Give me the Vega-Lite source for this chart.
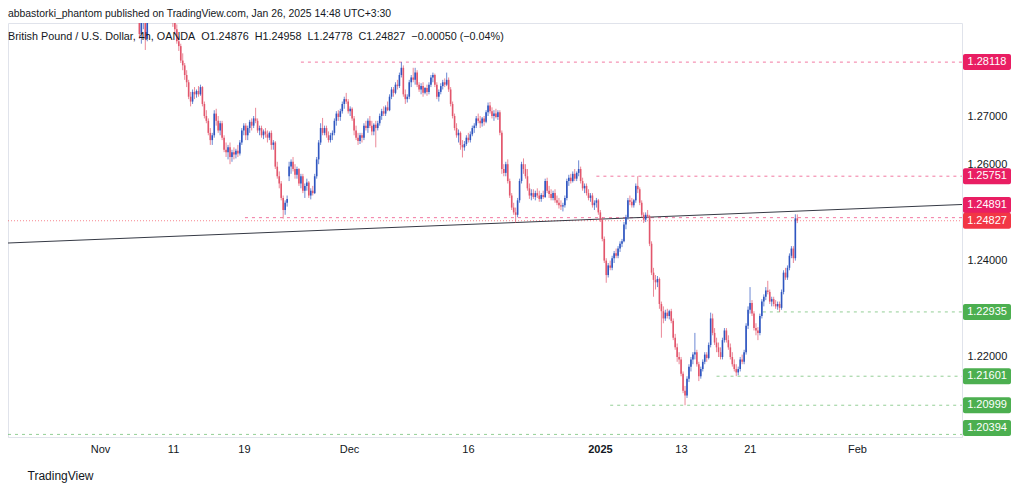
{
"$schema":"https://vega.github.io/schema/vega-lite/v6.json",
"width":954,"height":414,
"padding":{"left":8,"top":23,"right":62,"bottom":53},
"autosize":{"type":"none"},
"background":"white",
"config":{"view":{"stroke":"#e0e3eb"},"font":"Liberation Sans","scale":{"continuousPadding":0}},
"title":{"text":"abbastorki_phantom published on TradingView.com, Jan 26, 2025 14:48 UTC+3:30","subtitle":"British Pound / U.S. Dollar, 4h, OANDA\u00a0\u00a0O1.24876\u00a0\u00a0H1.24958\u00a0\u00a0L1.24778\u00a0\u00a0C1.24827\u00a0\u00a0−0.00050 (−0.04%)","anchor":"start","frame":"group","offset":-19,"fontSize":10.4,"fontWeight":"normal","color":"#131722","subtitleFontSize":10.8,"subtitleColor":"#131722","subtitlePadding":12},
"datasets":{
"candles":[
{"i":19,"o":1.2960,"h":1.2975,"l":1.2930,"c":1.2940},
{"i":20,"o":1.2940,"h":1.2945,"l":1.2860,"c":1.2870},
{"i":21,"o":1.2870,"h":1.2900,"l":1.2850,"c":1.2895},
{"i":22,"o":1.2895,"h":1.2920,"l":1.2880,"c":1.2910},
{"i":23,"o":1.2910,"h":1.2915,"l":1.2837,"c":1.2860},
{"i":24,"o":1.2860,"h":1.2925,"l":1.2855,"c":1.2920},
{"i":25,"o":1.2920,"h":1.2960,"l":1.2915,"c":1.2950},
{"i":36,"o":1.2920,"h":1.2935,"l":1.2905,"c":1.2910},
{"i":37,"o":1.2910,"h":1.2915,"l":1.2885,"c":1.2895},
{"i":38,"o":1.2895,"h":1.2900,"l":1.2870,"c":1.2880},
{"i":39,"o":1.2880,"h":1.2890,"l":1.2850,"c":1.2855},
{"i":40,"o":1.2855,"h":1.2865,"l":1.2835,"c":1.2845},
{"i":41,"o":1.2845,"h":1.2850,"l":1.2810,"c":1.2815},
{"i":42,"o":1.2815,"h":1.2830,"l":1.2795,"c":1.2805},
{"i":43,"o":1.2805,"h":1.2810,"l":1.2775,"c":1.2785},
{"i":44,"o":1.2785,"h":1.2795,"l":1.2760,"c":1.2770},
{"i":45,"o":1.2770,"h":1.2775,"l":1.2735,"c":1.2740},
{"i":46,"o":1.2740,"h":1.2750,"l":1.2720,"c":1.2730},
{"i":47,"o":1.2730,"h":1.2755,"l":1.2725,"c":1.2750},
{"i":48,"o":1.2750,"h":1.2760,"l":1.2735,"c":1.2745},
{"i":49,"o":1.2745,"h":1.2755,"l":1.2738,"c":1.2752},
{"i":50,"o":1.2752,"h":1.2762,"l":1.2740,"c":1.2745},
{"i":51,"o":1.2745,"h":1.2765,"l":1.2742,"c":1.2760},
{"i":52,"o":1.2760,"h":1.2762,"l":1.2720,"c":1.2725},
{"i":53,"o":1.2725,"h":1.2730,"l":1.2695,"c":1.2700},
{"i":54,"o":1.2700,"h":1.2712,"l":1.2685,"c":1.2690},
{"i":55,"o":1.2690,"h":1.2695,"l":1.2660,"c":1.2665},
{"i":56,"o":1.2665,"h":1.2675,"l":1.2640,"c":1.2650},
{"i":57,"o":1.2650,"h":1.2665,"l":1.2640,"c":1.2660},
{"i":58,"o":1.2660,"h":1.2712,"l":1.2655,"c":1.2705},
{"i":59,"o":1.2705,"h":1.2715,"l":1.2680,"c":1.2690},
{"i":60,"o":1.2690,"h":1.2700,"l":1.2665,"c":1.2670},
{"i":61,"o":1.2670,"h":1.2690,"l":1.2660,"c":1.2685},
{"i":62,"o":1.2685,"h":1.2690,"l":1.2650,"c":1.2655},
{"i":63,"o":1.2655,"h":1.2660,"l":1.2625,"c":1.2630},
{"i":64,"o":1.2630,"h":1.2645,"l":1.2615,"c":1.2625},
{"i":65,"o":1.2625,"h":1.2640,"l":1.2610,"c":1.2635},
{"i":66,"o":1.2635,"h":1.2645,"l":1.2600,"c":1.2615},
{"i":67,"o":1.2615,"h":1.2630,"l":1.2605,"c":1.2625},
{"i":68,"o":1.2625,"h":1.2635,"l":1.2610,"c":1.2620},
{"i":69,"o":1.2620,"h":1.2632,"l":1.2612,"c":1.2628},
{"i":70,"o":1.2628,"h":1.2640,"l":1.2615,"c":1.2622},
{"i":71,"o":1.2622,"h":1.2650,"l":1.2618,"c":1.2645},
{"i":72,"o":1.2645,"h":1.2675,"l":1.2640,"c":1.2670},
{"i":73,"o":1.2670,"h":1.2685,"l":1.2660,"c":1.2680},
{"i":74,"o":1.2680,"h":1.2685,"l":1.2650,"c":1.2660},
{"i":75,"o":1.2660,"h":1.2680,"l":1.2650,"c":1.2675},
{"i":76,"o":1.2675,"h":1.2692,"l":1.2665,"c":1.2688},
{"i":77,"o":1.2688,"h":1.2695,"l":1.2670,"c":1.2680},
{"i":78,"o":1.2680,"h":1.2700,"l":1.2675,"c":1.2695},
{"i":79,"o":1.2695,"h":1.2717,"l":1.2685,"c":1.2690},
{"i":80,"o":1.2690,"h":1.2695,"l":1.2665,"c":1.2670},
{"i":81,"o":1.2670,"h":1.2680,"l":1.2660,"c":1.2675},
{"i":82,"o":1.2675,"h":1.2680,"l":1.2655,"c":1.2660},
{"i":83,"o":1.2660,"h":1.2672,"l":1.2652,"c":1.2668},
{"i":84,"o":1.2668,"h":1.2675,"l":1.2655,"c":1.2662},
{"i":85,"o":1.2662,"h":1.2670,"l":1.2645,"c":1.2655},
{"i":86,"o":1.2655,"h":1.2668,"l":1.2650,"c":1.2665},
{"i":87,"o":1.2665,"h":1.2670,"l":1.2630,"c":1.2640},
{"i":88,"o":1.2640,"h":1.2650,"l":1.2630,"c":1.2645},
{"i":89,"o":1.2645,"h":1.2648,"l":1.2590,"c":1.2595},
{"i":90,"o":1.2595,"h":1.2605,"l":1.2570,"c":1.2575},
{"i":91,"o":1.2575,"h":1.2585,"l":1.2550,"c":1.2560},
{"i":92,"o":1.2560,"h":1.2565,"l":1.2525,"c":1.2530},
{"i":93,"o":1.2530,"h":1.2535,"l":1.2487,"c":1.2505},
{"i":94,"o":1.2505,"h":1.2525,"l":1.2495,"c":1.2520},
{"i":95,"o":1.2520,"h":1.2535,"l":1.2512,"c":1.2528},
{"i":96,"o":1.2575,"h":1.2605,"l":1.2565,"c":1.2595},
{"i":97,"o":1.2595,"h":1.2610,"l":1.2580,"c":1.2605},
{"i":98,"o":1.2605,"h":1.2615,"l":1.2585,"c":1.2590},
{"i":99,"o":1.2590,"h":1.2600,"l":1.2570,"c":1.2578},
{"i":100,"o":1.2578,"h":1.2595,"l":1.2570,"c":1.2590},
{"i":101,"o":1.2590,"h":1.2592,"l":1.2555,"c":1.2560},
{"i":102,"o":1.2560,"h":1.2580,"l":1.2550,"c":1.2575},
{"i":103,"o":1.2575,"h":1.2580,"l":1.2540,"c":1.2545},
{"i":104,"o":1.2545,"h":1.2560,"l":1.2530,"c":1.2555},
{"i":105,"o":1.2555,"h":1.2570,"l":1.2545,"c":1.2562},
{"i":106,"o":1.2562,"h":1.2565,"l":1.2530,"c":1.2535},
{"i":107,"o":1.2535,"h":1.2550,"l":1.2527,"c":1.2545},
{"i":108,"o":1.2545,"h":1.2555,"l":1.2535,"c":1.2540},
{"i":109,"o":1.2540,"h":1.2580,"l":1.2538,"c":1.2575},
{"i":110,"o":1.2575,"h":1.2615,"l":1.2570,"c":1.2610},
{"i":111,"o":1.2610,"h":1.2650,"l":1.2600,"c":1.2645},
{"i":112,"o":1.2645,"h":1.2685,"l":1.2640,"c":1.2675},
{"i":113,"o":1.2675,"h":1.2696,"l":1.2660,"c":1.2665},
{"i":114,"o":1.2665,"h":1.2680,"l":1.2660,"c":1.2675},
{"i":115,"o":1.2675,"h":1.2680,"l":1.2655,"c":1.2660},
{"i":116,"o":1.2660,"h":1.2668,"l":1.2645,"c":1.2650},
{"i":117,"o":1.2650,"h":1.2665,"l":1.2645,"c":1.2660},
{"i":118,"o":1.2660,"h":1.2670,"l":1.2650,"c":1.2665},
{"i":119,"o":1.2665,"h":1.2695,"l":1.2660,"c":1.2690},
{"i":120,"o":1.2690,"h":1.2710,"l":1.2680,"c":1.2705},
{"i":121,"o":1.2705,"h":1.2712,"l":1.2690,"c":1.2698},
{"i":122,"o":1.2698,"h":1.2715,"l":1.2690,"c":1.2710},
{"i":123,"o":1.2710,"h":1.2730,"l":1.2705,"c":1.2725},
{"i":124,"o":1.2725,"h":1.2740,"l":1.2715,"c":1.2735},
{"i":125,"o":1.2735,"h":1.2748,"l":1.2725,"c":1.2730},
{"i":126,"o":1.2730,"h":1.2735,"l":1.2705,"c":1.2710},
{"i":127,"o":1.2710,"h":1.2720,"l":1.2700,"c":1.2715},
{"i":128,"o":1.2715,"h":1.2718,"l":1.2690,"c":1.2695},
{"i":129,"o":1.2695,"h":1.2700,"l":1.2660,"c":1.2670},
{"i":130,"o":1.2670,"h":1.2680,"l":1.2650,"c":1.2655},
{"i":131,"o":1.2655,"h":1.2665,"l":1.2640,"c":1.2648},
{"i":132,"o":1.2648,"h":1.2665,"l":1.2642,"c":1.2660},
{"i":133,"o":1.2660,"h":1.2665,"l":1.2645,"c":1.2655},
{"i":134,"o":1.2655,"h":1.2685,"l":1.2650,"c":1.2680},
{"i":135,"o":1.2680,"h":1.2690,"l":1.2670,"c":1.2675},
{"i":136,"o":1.2675,"h":1.2695,"l":1.2665,"c":1.2690},
{"i":137,"o":1.2690,"h":1.2700,"l":1.2675,"c":1.2680},
{"i":138,"o":1.2680,"h":1.2690,"l":1.2660,"c":1.2668},
{"i":139,"o":1.2668,"h":1.2685,"l":1.2660,"c":1.2682},
{"i":140,"o":1.2682,"h":1.2690,"l":1.2635,"c":1.2675},
{"i":141,"o":1.2675,"h":1.2690,"l":1.2670,"c":1.2685},
{"i":142,"o":1.2685,"h":1.2705,"l":1.2680,"c":1.2700},
{"i":143,"o":1.2700,"h":1.2715,"l":1.2692,"c":1.2710},
{"i":144,"o":1.2710,"h":1.2720,"l":1.2700,"c":1.2705},
{"i":145,"o":1.2705,"h":1.2722,"l":1.2700,"c":1.2718},
{"i":146,"o":1.2718,"h":1.2730,"l":1.2710,"c":1.2712},
{"i":147,"o":1.2712,"h":1.2745,"l":1.2710,"c":1.2740},
{"i":148,"o":1.2740,"h":1.2760,"l":1.2735,"c":1.2755},
{"i":149,"o":1.2755,"h":1.2760,"l":1.2740,"c":1.2748},
{"i":150,"o":1.2748,"h":1.2770,"l":1.2745,"c":1.2765},
{"i":151,"o":1.2765,"h":1.2775,"l":1.2755,"c":1.2762},
{"i":152,"o":1.2762,"h":1.2790,"l":1.2758,"c":1.2785},
{"i":153,"o":1.2785,"h":1.28118,"l":1.2780,"c":1.2800},
{"i":154,"o":1.2800,"h":1.2805,"l":1.2740,"c":1.2745},
{"i":155,"o":1.2745,"h":1.2755,"l":1.2725,"c":1.2735},
{"i":156,"o":1.2735,"h":1.2745,"l":1.2728,"c":1.2740},
{"i":157,"o":1.2740,"h":1.2775,"l":1.2735,"c":1.2770},
{"i":158,"o":1.2770,"h":1.2785,"l":1.2760,"c":1.2780},
{"i":159,"o":1.2780,"h":1.2800,"l":1.2770,"c":1.2775},
{"i":160,"o":1.2775,"h":1.2800,"l":1.2765,"c":1.2790},
{"i":161,"o":1.2790,"h":1.2795,"l":1.2760,"c":1.2765},
{"i":162,"o":1.2765,"h":1.2770,"l":1.2750,"c":1.2755},
{"i":163,"o":1.2755,"h":1.2768,"l":1.2745,"c":1.2762},
{"i":164,"o":1.2762,"h":1.2770,"l":1.2740,"c":1.2748},
{"i":165,"o":1.2748,"h":1.2760,"l":1.2745,"c":1.2758},
{"i":166,"o":1.2758,"h":1.2765,"l":1.2742,"c":1.2750},
{"i":167,"o":1.2750,"h":1.2770,"l":1.2745,"c":1.2765},
{"i":168,"o":1.2765,"h":1.2785,"l":1.2760,"c":1.2780},
{"i":169,"o":1.2780,"h":1.2790,"l":1.2770,"c":1.2785},
{"i":170,"o":1.2785,"h":1.2788,"l":1.2760,"c":1.2765},
{"i":171,"o":1.2765,"h":1.2770,"l":1.2735,"c":1.2740},
{"i":172,"o":1.2740,"h":1.2755,"l":1.2730,"c":1.2750},
{"i":173,"o":1.2750,"h":1.2768,"l":1.2745,"c":1.2762},
{"i":174,"o":1.2762,"h":1.2775,"l":1.2755,"c":1.2770},
{"i":175,"o":1.2770,"h":1.2778,"l":1.2760,"c":1.2765},
{"i":176,"o":1.2765,"h":1.2790,"l":1.2762,"c":1.2775},
{"i":177,"o":1.2775,"h":1.2780,"l":1.2750,"c":1.2755},
{"i":178,"o":1.2755,"h":1.2760,"l":1.2720,"c":1.2725},
{"i":179,"o":1.2725,"h":1.2730,"l":1.2695,"c":1.2700},
{"i":180,"o":1.2700,"h":1.2705,"l":1.2670,"c":1.2675},
{"i":181,"o":1.2675,"h":1.2685,"l":1.2655,"c":1.2660},
{"i":182,"o":1.2660,"h":1.2672,"l":1.2645,"c":1.2665},
{"i":183,"o":1.2665,"h":1.2668,"l":1.2630,"c":1.2640},
{"i":184,"o":1.2640,"h":1.2650,"l":1.2614,"c":1.2635},
{"i":185,"o":1.2635,"h":1.2648,"l":1.2628,"c":1.2642},
{"i":186,"o":1.2642,"h":1.2660,"l":1.2638,"c":1.2655},
{"i":187,"o":1.2655,"h":1.2665,"l":1.2645,"c":1.2650},
{"i":188,"o":1.2650,"h":1.2668,"l":1.2645,"c":1.2662},
{"i":189,"o":1.2662,"h":1.2680,"l":1.2658,"c":1.2675},
{"i":190,"o":1.2675,"h":1.2685,"l":1.2665,"c":1.2680},
{"i":191,"o":1.2680,"h":1.2700,"l":1.2675,"c":1.2695},
{"i":192,"o":1.2695,"h":1.2705,"l":1.2685,"c":1.2690},
{"i":193,"o":1.2690,"h":1.2700,"l":1.2675,"c":1.2685},
{"i":194,"o":1.2685,"h":1.2698,"l":1.2678,"c":1.2695},
{"i":195,"o":1.2695,"h":1.2700,"l":1.2680,"c":1.2688},
{"i":196,"o":1.2688,"h":1.2712,"l":1.2685,"c":1.2708},
{"i":197,"o":1.2708,"h":1.2728,"l":1.2700,"c":1.2722},
{"i":198,"o":1.2722,"h":1.2729,"l":1.2705,"c":1.2710},
{"i":199,"o":1.2710,"h":1.2718,"l":1.2695,"c":1.2700},
{"i":200,"o":1.2700,"h":1.2712,"l":1.2690,"c":1.2705},
{"i":201,"o":1.2705,"h":1.2715,"l":1.2695,"c":1.2698},
{"i":202,"o":1.2698,"h":1.2712,"l":1.2692,"c":1.2708},
{"i":203,"o":1.2708,"h":1.2712,"l":1.2660,"c":1.2665},
{"i":204,"o":1.2665,"h":1.2670,"l":1.2580,"c":1.2590},
{"i":205,"o":1.2590,"h":1.2600,"l":1.2575,"c":1.2582},
{"i":206,"o":1.2582,"h":1.2605,"l":1.2575,"c":1.2600},
{"i":207,"o":1.2600,"h":1.2610,"l":1.2560,"c":1.2565},
{"i":208,"o":1.2565,"h":1.2570,"l":1.2530,"c":1.2535},
{"i":209,"o":1.2535,"h":1.2540,"l":1.2505,"c":1.2510},
{"i":210,"o":1.2510,"h":1.2520,"l":1.2495,"c":1.2500},
{"i":211,"o":1.2500,"h":1.2510,"l":1.2478,"c":1.2495},
{"i":212,"o":1.2495,"h":1.2530,"l":1.2490,"c":1.2525},
{"i":213,"o":1.2525,"h":1.2570,"l":1.2520,"c":1.2565},
{"i":214,"o":1.2565,"h":1.2605,"l":1.2560,"c":1.2600},
{"i":215,"o":1.2600,"h":1.2612,"l":1.2580,"c":1.2590},
{"i":216,"o":1.2590,"h":1.2600,"l":1.2570,"c":1.2575},
{"i":217,"o":1.2575,"h":1.2590,"l":1.2545,"c":1.2550},
{"i":218,"o":1.2550,"h":1.2560,"l":1.2528,"c":1.2535},
{"i":219,"o":1.2535,"h":1.2548,"l":1.2525,"c":1.2540},
{"i":220,"o":1.2540,"h":1.2548,"l":1.2528,"c":1.2532},
{"i":221,"o":1.2532,"h":1.2545,"l":1.2525,"c":1.2540},
{"i":222,"o":1.2540,"h":1.2550,"l":1.2530,"c":1.2535},
{"i":223,"o":1.2535,"h":1.2545,"l":1.2522,"c":1.2528},
{"i":224,"o":1.2528,"h":1.2540,"l":1.2522,"c":1.2536},
{"i":225,"o":1.2536,"h":1.2545,"l":1.2528,"c":1.2532},
{"i":226,"o":1.2532,"h":1.2570,"l":1.2530,"c":1.2565},
{"i":227,"o":1.2565,"h":1.2572,"l":1.2540,"c":1.2545},
{"i":228,"o":1.2545,"h":1.2555,"l":1.2530,"c":1.2538},
{"i":229,"o":1.2538,"h":1.2548,"l":1.2525,"c":1.2530},
{"i":230,"o":1.2530,"h":1.2545,"l":1.2525,"c":1.2540},
{"i":231,"o":1.2540,"h":1.2548,"l":1.2520,"c":1.2525},
{"i":232,"o":1.2525,"h":1.2535,"l":1.2515,"c":1.2520},
{"i":233,"o":1.2520,"h":1.2530,"l":1.2508,"c":1.2515},
{"i":234,"o":1.2515,"h":1.2525,"l":1.2505,"c":1.2512},
{"i":235,"o":1.2512,"h":1.2520,"l":1.2502,"c":1.2515},
{"i":236,"o":1.2515,"h":1.2535,"l":1.2510,"c":1.2530},
{"i":237,"o":1.2530,"h":1.2570,"l":1.2525,"c":1.2565},
{"i":238,"o":1.2565,"h":1.2578,"l":1.2555,"c":1.2572},
{"i":239,"o":1.2572,"h":1.2580,"l":1.2560,"c":1.2565},
{"i":240,"o":1.2565,"h":1.2585,"l":1.2562,"c":1.2580},
{"i":241,"o":1.2580,"h":1.2590,"l":1.2565,"c":1.2570},
{"i":242,"o":1.2570,"h":1.2585,"l":1.2565,"c":1.2582},
{"i":243,"o":1.2582,"h":1.2608,"l":1.2575,"c":1.2590},
{"i":244,"o":1.2590,"h":1.2595,"l":1.2560,"c":1.2565},
{"i":245,"o":1.2565,"h":1.2572,"l":1.2545,"c":1.2550},
{"i":246,"o":1.2550,"h":1.2560,"l":1.2540,"c":1.2555},
{"i":247,"o":1.2555,"h":1.2560,"l":1.2535,"c":1.2540},
{"i":248,"o":1.2540,"h":1.2548,"l":1.2525,"c":1.2530},
{"i":249,"o":1.2530,"h":1.2540,"l":1.2522,"c":1.2535},
{"i":250,"o":1.2535,"h":1.2540,"l":1.2510,"c":1.2515},
{"i":251,"o":1.2515,"h":1.2525,"l":1.2505,"c":1.2520},
{"i":252,"o":1.2520,"h":1.2530,"l":1.2510,"c":1.2525},
{"i":253,"o":1.2525,"h":1.2528,"l":1.2495,"c":1.2500},
{"i":254,"o":1.2500,"h":1.2505,"l":1.2480,"c":1.2485},
{"i":255,"o":1.2485,"h":1.2490,"l":1.2440,"c":1.2445},
{"i":256,"o":1.2445,"h":1.2450,"l":1.2395,"c":1.2400},
{"i":257,"o":1.2400,"h":1.2405,"l":1.2354,"c":1.2370},
{"i":258,"o":1.2370,"h":1.2395,"l":1.2365,"c":1.2390},
{"i":259,"o":1.2390,"h":1.2400,"l":1.2380,"c":1.2385},
{"i":260,"o":1.2385,"h":1.2410,"l":1.2380,"c":1.2405},
{"i":261,"o":1.2405,"h":1.2420,"l":1.2395,"c":1.2415},
{"i":262,"o":1.2415,"h":1.2425,"l":1.2405,"c":1.2410},
{"i":263,"o":1.2410,"h":1.2430,"l":1.2405,"c":1.2425},
{"i":264,"o":1.2425,"h":1.2440,"l":1.2418,"c":1.2435},
{"i":265,"o":1.2435,"h":1.2445,"l":1.2428,"c":1.2440},
{"i":266,"o":1.2440,"h":1.2480,"l":1.2438,"c":1.2475},
{"i":267,"o":1.2475,"h":1.2495,"l":1.2465,"c":1.2490},
{"i":268,"o":1.2490,"h":1.2530,"l":1.2485,"c":1.2525},
{"i":269,"o":1.2525,"h":1.2535,"l":1.2515,"c":1.2522},
{"i":270,"o":1.2522,"h":1.2530,"l":1.2510,"c":1.2515},
{"i":271,"o":1.2515,"h":1.2528,"l":1.2510,"c":1.2525},
{"i":272,"o":1.2525,"h":1.2560,"l":1.2520,"c":1.2555},
{"i":273,"o":1.2555,"h":1.25751,"l":1.2540,"c":1.2548},
{"i":274,"o":1.2548,"h":1.2552,"l":1.2515,"c":1.2520},
{"i":275,"o":1.2520,"h":1.2525,"l":1.2490,"c":1.2495},
{"i":276,"o":1.2495,"h":1.2500,"l":1.2478,"c":1.2485},
{"i":277,"o":1.2485,"h":1.2500,"l":1.2480,"c":1.2495},
{"i":278,"o":1.2495,"h":1.2505,"l":1.2488,"c":1.2492},
{"i":279,"o":1.2492,"h":1.2495,"l":1.2430,"c":1.2435},
{"i":280,"o":1.2435,"h":1.2440,"l":1.2370,"c":1.2375},
{"i":281,"o":1.2375,"h":1.2385,"l":1.2325,"c":1.2360},
{"i":282,"o":1.2360,"h":1.2370,"l":1.2340,"c":1.2355},
{"i":283,"o":1.2355,"h":1.2368,"l":1.2345,"c":1.2362},
{"i":284,"o":1.2362,"h":1.2365,"l":1.2300,"c":1.2310},
{"i":285,"o":1.2310,"h":1.2315,"l":1.2240,"c":1.2295},
{"i":286,"o":1.2295,"h":1.2305,"l":1.2270,"c":1.2280},
{"i":287,"o":1.2280,"h":1.2298,"l":1.2275,"c":1.2292},
{"i":288,"o":1.2292,"h":1.2300,"l":1.2280,"c":1.2285},
{"i":289,"o":1.2285,"h":1.2298,"l":1.2278,"c":1.2295},
{"i":290,"o":1.2295,"h":1.2300,"l":1.2270,"c":1.2275},
{"i":291,"o":1.2275,"h":1.2280,"l":1.2235,"c":1.2240},
{"i":292,"o":1.2240,"h":1.2248,"l":1.2215,"c":1.2220},
{"i":293,"o":1.2220,"h":1.2228,"l":1.2190,"c":1.2200},
{"i":294,"o":1.2200,"h":1.2210,"l":1.2185,"c":1.2195},
{"i":295,"o":1.2195,"h":1.2200,"l":1.2160,"c":1.2165},
{"i":296,"o":1.2165,"h":1.2170,"l":1.2125,"c":1.2130},
{"i":297,"o":1.2130,"h":1.2140,"l":1.20999,"c":1.2120},
{"i":298,"o":1.2120,"h":1.2160,"l":1.2115,"c":1.2155},
{"i":299,"o":1.2155,"h":1.2185,"l":1.2148,"c":1.2180},
{"i":300,"o":1.2180,"h":1.2200,"l":1.2170,"c":1.2195},
{"i":301,"o":1.2195,"h":1.2210,"l":1.2185,"c":1.2205},
{"i":302,"o":1.2205,"h":1.2250,"l":1.2195,"c":1.2210},
{"i":303,"o":1.2210,"h":1.2215,"l":1.2180,"c":1.2185},
{"i":304,"o":1.2185,"h":1.2190,"l":1.2150,"c":1.2160},
{"i":305,"o":1.2160,"h":1.2180,"l":1.2155,"c":1.2175},
{"i":306,"o":1.2175,"h":1.2195,"l":1.2170,"c":1.2190},
{"i":307,"o":1.2190,"h":1.2210,"l":1.2185,"c":1.2205},
{"i":308,"o":1.2205,"h":1.2210,"l":1.2190,"c":1.2198},
{"i":309,"o":1.2198,"h":1.2230,"l":1.2195,"c":1.2225},
{"i":310,"o":1.2225,"h":1.2292,"l":1.2220,"c":1.2280},
{"i":311,"o":1.2280,"h":1.2290,"l":1.2245,"c":1.2250},
{"i":312,"o":1.2250,"h":1.2260,"l":1.2225,"c":1.2230},
{"i":313,"o":1.2230,"h":1.2240,"l":1.2210,"c":1.2220},
{"i":314,"o":1.2220,"h":1.2230,"l":1.2200,"c":1.2210},
{"i":315,"o":1.2210,"h":1.2220,"l":1.2195,"c":1.2200},
{"i":316,"o":1.2200,"h":1.2240,"l":1.2195,"c":1.2235},
{"i":317,"o":1.2235,"h":1.2260,"l":1.2230,"c":1.2255},
{"i":318,"o":1.2255,"h":1.2260,"l":1.2230,"c":1.2235},
{"i":319,"o":1.2235,"h":1.2245,"l":1.2215,"c":1.2220},
{"i":320,"o":1.2220,"h":1.2228,"l":1.2195,"c":1.2200},
{"i":321,"o":1.2200,"h":1.2210,"l":1.2180,"c":1.2185},
{"i":322,"o":1.2185,"h":1.2195,"l":1.2170,"c":1.2175},
{"i":323,"o":1.2175,"h":1.2185,"l":1.21601,"c":1.2168},
{"i":324,"o":1.2168,"h":1.2180,"l":1.2162,"c":1.2175},
{"i":325,"o":1.2175,"h":1.2200,"l":1.2170,"c":1.2195},
{"i":326,"o":1.2195,"h":1.2205,"l":1.2185,"c":1.2190},
{"i":327,"o":1.2190,"h":1.2215,"l":1.2185,"c":1.2210},
{"i":328,"o":1.2210,"h":1.2270,"l":1.2205,"c":1.2265},
{"i":329,"o":1.2265,"h":1.2305,"l":1.2258,"c":1.2298},
{"i":330,"o":1.2298,"h":1.2345,"l":1.2290,"c":1.2312},
{"i":331,"o":1.2312,"h":1.2318,"l":1.2285,"c":1.2290},
{"i":332,"o":1.2290,"h":1.2295,"l":1.2255,"c":1.2260},
{"i":333,"o":1.2260,"h":1.2270,"l":1.2245,"c":1.2255},
{"i":334,"o":1.2255,"h":1.2262,"l":1.2235,"c":1.2250},
{"i":335,"o":1.2250,"h":1.2290,"l":1.2245,"c":1.2285},
{"i":336,"o":1.2285,"h":1.2320,"l":1.2280,"c":1.2315},
{"i":337,"o":1.2315,"h":1.2330,"l":1.2305,"c":1.2325},
{"i":338,"o":1.2325,"h":1.2345,"l":1.2318,"c":1.2338},
{"i":339,"o":1.2338,"h":1.2358,"l":1.2330,"c":1.2335},
{"i":340,"o":1.2335,"h":1.2340,"l":1.2310,"c":1.2315},
{"i":341,"o":1.2315,"h":1.2325,"l":1.2305,"c":1.2320},
{"i":342,"o":1.2320,"h":1.2325,"l":1.2305,"c":1.2310},
{"i":343,"o":1.2310,"h":1.2318,"l":1.2300,"c":1.2305},
{"i":344,"o":1.2305,"h":1.2315,"l":1.2298,"c":1.2310},
{"i":345,"o":1.2310,"h":1.2315,"l":1.22935,"c":1.2302},
{"i":346,"o":1.2302,"h":1.2340,"l":1.2298,"c":1.2335},
{"i":347,"o":1.2335,"h":1.2380,"l":1.2330,"c":1.2375},
{"i":348,"o":1.2375,"h":1.2385,"l":1.2360,"c":1.2365},
{"i":349,"o":1.2365,"h":1.2390,"l":1.2360,"c":1.2385},
{"i":350,"o":1.2385,"h":1.2415,"l":1.2380,"c":1.2410},
{"i":351,"o":1.2410,"h":1.2430,"l":1.2405,"c":1.2425},
{"i":352,"o":1.2425,"h":1.2430,"l":1.2395,"c":1.2405},
{"i":353,"o":1.2405,"h":1.2496,"l":1.2400,"c":1.24876},
{"i":354,"o":1.24876,"h":1.24958,"l":1.24778,"c":1.24827}
],
"levels":[
{"v":1.28118,"s":102,"pos":1.28118,"k":"pink","t":"1.28118"},
{"v":1.25751,"s":252,"pos":1.25751,"k":"pink","t":"1.25751"},
{"v":1.24891,"s":73.6,"pos":1.25154,"k":"pink","t":"1.24891"},
{"v":1.24827,"s":-46.7,"pos":1.24827,"k":"cur","t":"1.24827"},
{"v":1.22935,"s":336.5,"pos":1.22935,"k":"green","t":"1.22935"},
{"v":1.21601,"s":313,"pos":1.21601,"k":"green","t":"1.21601"},
{"v":1.20999,"s":259,"pos":1.20999,"k":"green","t":"1.20999"},
{"v":1.20394,"s":-46.7,"pos":1.20527,"k":"green","t":"1.20394"}
],
"trend":[{"i":-46.7,"p":1.24365},{"i":437.6,"p":1.25164}]
},
"layer":[
{"data":{"name":"levels"},
 "mark":{"type":"rule","strokeWidth":1,"opacity":0.6,"clip":true},
 "encoding":{
  "x":{"field":"s","type":"quantitative","scale":{"domain":[-46.7,437.6],"nice":false,"zero":false,"padding":0},
   "axis":{"values":[0,37.1,73.1,126.4,186.8,253.8,294.9,329.9,384.3],"labelExpr":"datum.value < 10 ? 'Nov' : datum.value < 50 ? '11' : datum.value < 100 ? '19' : datum.value < 150 ? 'Dec' : datum.value < 200 ? '16' : datum.value < 270 ? '2025' : datum.value < 310 ? '13' : datum.value < 350 ? '21' : 'Feb'","labelFontWeight":{"condition":{"test":"datum.value > 250 && datum.value < 260","value":"bold"},"value":"normal"},"grid":false,"ticks":false,"domain":true,"domainColor":"#e0e3eb","labelColor":"#131722","labelFontSize":11,"labelPadding":6,"title":"TradingView","titleX":19,"titleY":38,"titleAlign":"left","titleBaseline":"middle","titleFontSize":12,"titleFontWeight":"normal","titleColor":"#131722"}},
  "x2":{"datum":437.6},
  "y":{"field":"v","type":"quantitative","scale":{"domain":[1.203402,1.289295],"nice":false,"zero":false},
   "axis":{"orient":"right","values":[1.22,1.24,1.26,1.27],"format":".5f","grid":false,"ticks":false,"domain":false,"labelColor":"#131722","labelFontSize":11,"labelPadding":5,"title":null}},
  "color":{"field":"k","type":"nominal","scale":{"domain":["pink","cur","green"],"range":["#e91e63","#f23645","#4caf50"]},"legend":null},
  "strokeDash":{"field":"k","type":"nominal","scale":{"domain":["pink","cur","green"],"range":[[3,4],[1,2],[3,4]]},"legend":null}
 }},
{"data":{"name":"trend"},
 "mark":{"type":"line","color":"#363a45","strokeWidth":1,"clip":true},
 "encoding":{
  "x":{"field":"i","type":"quantitative","scale":{"domain":[-46.7,437.6],"nice":false,"zero":false,"padding":0}},
  "y":{"field":"p","type":"quantitative","scale":{"domain":[1.203402,1.289295],"nice":false,"zero":false}}
 }},
{"data":{"name":"candles"},
 "mark":{"type":"rule","strokeWidth":1,"opacity":0.7,"clip":true},
 "encoding":{
  "x":{"field":"i","type":"quantitative","scale":{"domain":[-46.7,437.6],"nice":false,"zero":false,"padding":0}},
  "y":{"field":"l","type":"quantitative","scale":{"domain":[1.203402,1.289295],"nice":false,"zero":false}},
  "y2":{"field":"h"},
  "color":{"condition":{"test":"datum.c >= datum.o","value":"#2e55c0"},"value":"#e2566c"}
 }},
{"data":{"name":"candles"},
 "mark":{"type":"bar","size":1.6,"clip":true},
 "encoding":{
  "x":{"field":"i","type":"quantitative","scale":{"domain":[-46.7,437.6],"nice":false,"zero":false,"padding":0}},
  "y":{"field":"o","type":"quantitative","scale":{"domain":[1.203402,1.289295],"nice":false,"zero":false}},
  "y2":{"field":"c"},
  "color":{"condition":{"test":"datum.c >= datum.o","value":"#2e55c0"},"value":"#e2566c"}
 }},
{"data":{"name":"levels"},
 "mark":{"type":"rect","xOffset":1,"x2Offset":49,"yOffset":-8,"y2Offset":8,"cornerRadius":2,"clip":false},
 "encoding":{
  "x":{"datum":437.6,"type":"quantitative","scale":{"domain":[-46.7,437.6],"nice":false,"zero":false,"padding":0}},
  "x2":{"datum":437.6},
  "y":{"field":"pos","type":"quantitative","scale":{"domain":[1.203402,1.289295],"nice":false,"zero":false}},
  "y2":{"field":"pos"},
  "color":{"field":"k","type":"nominal","scale":{"domain":["pink","cur","green"],"range":["#e91e63","#f23645","#4caf50"]},"legend":null}
 }},
{"data":{"name":"levels"},
 "mark":{"type":"text","dx":25,"align":"center","baseline":"middle","color":"white","fontSize":11,"clip":false},
 "encoding":{
  "x":{"datum":437.6,"type":"quantitative","scale":{"domain":[-46.7,437.6],"nice":false,"zero":false,"padding":0}},
  "y":{"field":"pos","type":"quantitative","scale":{"domain":[1.203402,1.289295],"nice":false,"zero":false}},
  "text":{"field":"t"}
 }}
]
}
